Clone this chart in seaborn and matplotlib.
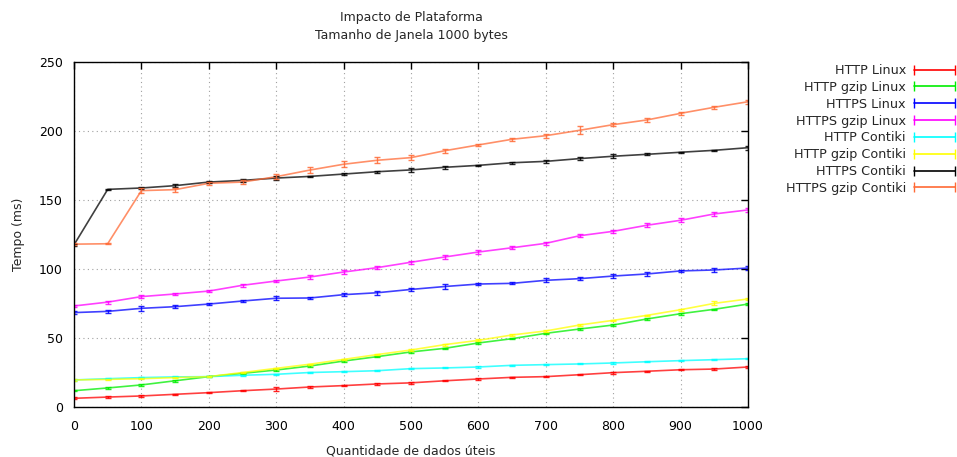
import numpy as np
import pandas as pd
import matplotlib
matplotlib.use("Agg")
import matplotlib.pyplot as plt
import seaborn as sns
from matplotlib.lines import Line2D
from matplotlib.legend_handler import HandlerLine2D

x_bytes = list(range(0, 1001, 50))

series_names = ["HTTP Linux", "HTTP gzip Linux", "HTTPS Linux", "HTTPS gzip Linux",
                "HTTP Contiki", "HTTP gzip Contiki", "HTTPS Contiki", "HTTPS gzip Contiki"]
series_colors = ["#ff0000", "#00ee00", "#0000ff", "#ff00ff",
                 "#00ffff", "#ffff00", "#000000", "#ff6a35"]

http_linux = [6.3, 7.2, 8.0, 9.2, 10.4, 11.8, 13.0, 14.5, 15.5, 16.7, 17.5,
              19.0, 20.3, 21.5, 22.0, 23.4, 24.9, 25.9, 27.0, 27.5, 29.0]
http_linux_err = [0.8, 0.5, 0.5, 0.5, 0.5, 0.5, 1.3, 0.5, 0.5, 0.5, 0.5,
                  0.5, 0.5, 0.5, 0.5, 0.5, 0.8, 0.5, 0.5, 0.5, 0.6]

http_gzip_linux = [11.8, 13.8, 16.0, 19.0, 22.0, 24.4, 26.8, 29.7, 33.3, 36.5, 39.9,
                   42.5, 46.4, 49.5, 53.4, 56.5, 59.4, 63.8, 67.6, 70.8, 74.6]
http_gzip_linux_err = [0.5, 0.5, 0.5, 0.6, 0.5, 0.5, 0.5, 0.5, 0.6, 0.5, 0.8,
                       0.5, 0.6, 0.5, 0.5, 0.5, 0.6, 0.5, 0.6, 0.5, 0.6]

https_linux = [68.4, 69.3, 71.5, 72.7, 74.6, 76.8, 78.8, 79.0, 81.4, 82.8, 85.2,
               87.3, 89.1, 89.6, 91.8, 93.0, 94.9, 96.4, 98.6, 99.3, 100.7]
https_linux_err = [1.0, 1.0, 1.6, 1.3, 1.0, 1.0, 1.3, 0.8, 1.3, 1.5, 1.3,
                   2.0, 1.0, 0.8, 1.5, 1.0, 1.5, 1.2, 1.0, 1.5, 1.2]

https_gzip_linux = [73.2, 76.0, 80.0, 81.9, 84.0, 88.2, 91.3, 94.2, 97.8, 101.0, 104.9,
                    108.7, 112.3, 115.4, 118.6, 124.1, 127.3, 131.7, 135.3, 139.9, 142.8]
https_gzip_linux_err = [1.0, 1.0, 1.0, 0.8, 0.8, 1.0, 1.0, 1.3, 1.3, 1.2, 1.2,
                        1.2, 1.2, 1.2, 1.0, 1.2, 1.0, 1.3, 1.3, 1.2, 1.2]

http_contiki = [19.6, 20.5, 21.3, 21.8, 22.0, 23.0, 23.7, 25.0, 25.6, 26.3, 27.8,
                28.3, 29.0, 30.2, 30.7, 31.2, 31.9, 32.8, 33.6, 34.3, 35.0]
http_contiki_err = [0.4] * 21

http_gzip_contiki = [19.6, 20.0, 20.5, 21.3, 22.0, 25.0, 28.0, 31.0, 34.5, 38.0, 41.3,
                     45.2, 48.3, 52.2, 55.1, 59.4, 62.8, 66.4, 70.5, 75.1, 78.3]
http_gzip_contiki_err = [0.5, 0.5, 0.5, 0.5, 0.6, 0.5, 0.6, 0.5, 0.6, 0.5, 0.5,
                         0.8, 0.8, 0.5, 0.5, 0.6, 0.6, 0.5, 0.6, 1.5, 0.6]

https_contiki = [117.5, 157.7, 158.7, 160.4, 163.0, 164.2, 165.9, 167.1, 168.8, 170.5, 171.8,
                 173.7, 175.1, 177.0, 178.0, 180.0, 181.7, 183.1, 184.6, 186.0, 187.9]
https_contiki_err = [0.6, 0.4, 1.0, 1.0, 0.8, 0.8, 1.2, 0.5, 0.5, 0.6, 1.5,
                     1.0, 0.6, 0.6, 1.2, 1.0, 1.5, 0.8, 0.5, 0.5, 1.5]

https_gzip_contiki = [118.0, 118.3, 156.8, 157.5, 162.1, 163.0, 166.9, 171.7, 175.9, 178.8, 180.7,
                      185.7, 189.9, 194.0, 196.6, 200.5, 204.6, 208.0, 212.8, 217.2, 221.2]
https_gzip_contiki_err = [0.5, 0.5, 2.0, 1.5, 1.2, 1.5, 2.0, 2.0, 2.0, 2.0, 2.0,
                          1.5, 1.0, 1.0, 1.5, 3.0, 1.0, 1.5, 1.0, 1.0, 1.5]

values = [http_linux, http_gzip_linux, https_linux, https_gzip_linux,
          http_contiki, http_gzip_contiki, https_contiki, https_gzip_contiki]
errors = [http_linux_err, http_gzip_linux_err, https_linux_err, https_gzip_linux_err,
          http_contiki_err, http_gzip_contiki_err, https_contiki_err, https_gzip_contiki_err]

x_ticks = list(range(0, 1001, 100))
y_ticks = [0, 50, 100, 150, 200, 250]

title_text = "Impacto de Plataforma\nTamanho de Janela 1000 bytes"
x_label = "Quantidade de dados úteis"
y_label = "Tempo (ms)"

rows = []
for name, vals, errs in zip(series_names, values, errors):
    for xv, yv, ev in zip(x_bytes, vals, errs):
        rows.append({"x": xv, "tempo": yv, "err": ev, "serie": name})
df = pd.DataFrame(rows)

sns.set_theme(style="white")
plt.rcParams['font.family'] = ['DejaVu Sans']
plt.rcParams['font.size'] = 9

fig = plt.figure(figsize=(9.57, 4.57), dpi=100)
ax = fig.add_axes([74/957, 50/457, 674/957, 345/457])

palette = dict(zip(series_names, series_colors))
sns.lineplot(data=df, x="x", y="tempo", hue="serie", hue_order=series_names,
             palette=palette, legend=False, ax=ax, linewidth=1.2, alpha=0.75)

for name in series_names:
    sub = df[df["serie"] == name]
    ax.errorbar(sub["x"], sub["tempo"], yerr=sub["err"], fmt="none",
                ecolor=palette[name], elinewidth=1.0, capsize=2.5, capthick=1.0, alpha=0.85)

ax.set_xlim(0, 1000)
ax.set_ylim(0, 250)
ax.set_xticks(x_ticks)
ax.set_yticks(y_ticks)
ax.grid(True, color="#a0a0a0", linestyle=(0, (1, 3)), linewidth=0.8)
ax.tick_params(direction="in", length=5, width=1, top=True, right=True,
               labelsize=9, pad=8, colors="black")
ax.tick_params(axis="x", pad=9)
for sp in ax.spines.values():
    sp.set_color("black")
    sp.set_linewidth(1.0)

ax.set_xlabel(x_label, fontsize=9, labelpad=9)
ax.set_ylabel(y_label, fontsize=9, labelpad=10)
fig.text(411/957, 1 - 27/457, title_text, ha="center", va="center",
         fontsize=9, linespacing=1.5)

handles = [Line2D([], [], color=c, marker="|", markersize=7, linewidth=1.2,
                  markeredgewidth=1.0) for c in series_colors]
leg = fig.legend(handles, series_names, loc="upper right",
                 bbox_to_anchor=(955/957, 1 - 64/457), frameon=False,
                 markerfirst=False, numpoints=2, handlelength=3.2,
                 handletextpad=0.65, labelspacing=0.3, fontsize=9.2,
                 handler_map={Line2D: HandlerLine2D(marker_pad=0)},
                 borderaxespad=0.0, borderpad=0.0)

fig.savefig("out.png", dpi=100)
